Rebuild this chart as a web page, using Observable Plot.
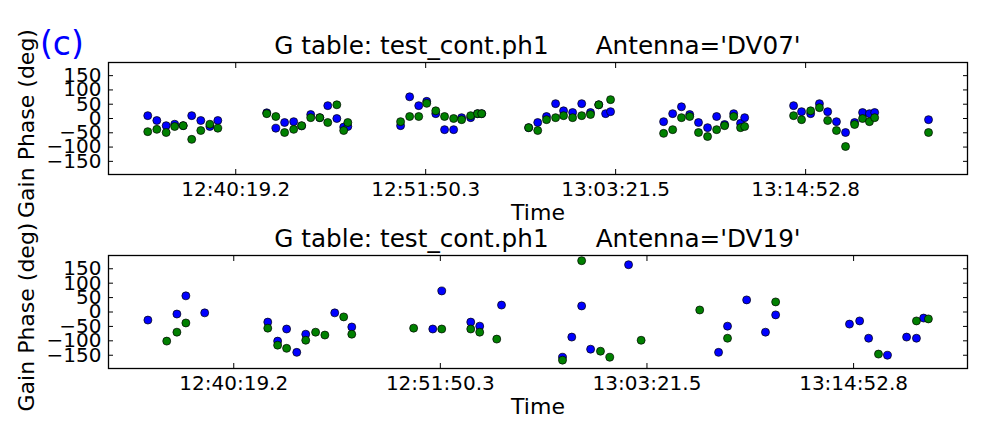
<!DOCTYPE html>
<html>
<head>
<meta charset="utf-8">
<script src="https://cdn.jsdelivr.net/npm/d3@7"></script>
<script src="https://cdn.jsdelivr.net/npm/@observablehq/plot@0.6"></script>
<style>
  html, body { margin: 0; padding: 0; background: #fff; }
  #wrap { position: relative; width: 996px; height: 448px; overflow: hidden; background: #fff; font-family: "DejaVu Sans", sans-serif; color: #000; }
  .panel { position: absolute; left: 0; }
  .title { position: absolute; left: 108px; width: 859px; text-align: center; font-size: 24.7px; line-height: 1; white-space: pre; }
  .tag { position: absolute; left: 40px; top: 27px; font-size: 33px; line-height: 1; color: #0000ff; }
  g[aria-label="x-axis label"], g[aria-label="y-axis label"] { font-size: 22px; }
</style>
</head>
<body>
<div id="wrap">
  <div id="top" class="panel" style="top:0px"></div>
  <div id="bottom" class="panel" style="top:230px"></div>
  <div class="tag">(c)</div>
  <div class="title" id="t1" style="top:34px"></div>
  <div class="title" id="t2" style="top:227px"></div>
</div>
<script>
// ---- tick labels ----
const xTickLabels = ["12:40:19.2", "12:51:50.3", "13:03:21.5", "13:14:52.8"];
const yTicks = [-150, -100, -50, 0, 50, 100, 150];
const tableName = "test_cont.ph1";
const antennas = ["DV07", "DV19"];

// ---- Antenna DV07 ----
const dv07Times = [
  "12:34:59","12:35:32","12:36:06","12:36:37","12:37:08","12:37:39","12:38:12","12:38:45","12:39:14",
  "12:42:12","12:42:45","12:43:17","12:43:50","12:44:19","12:44:52","12:45:25","12:45:54","12:46:27","12:46:52","12:47:07",
  "12:50:19","12:50:52","12:51:25","12:51:54","12:52:27","12:52:59","12:53:32","12:54:01","12:54:34","12:54:59","12:55:14",
  "12:58:05","12:58:38","12:59:10","12:59:43","13:00:12","13:00:45","13:01:18","13:01:50","13:02:20","13:02:45","13:03:03",
  "13:06:16","13:06:49","13:07:21","13:07:51","13:08:23","13:08:56","13:09:29","13:09:58","13:10:31","13:10:56","13:11:11",
  "13:14:09","13:14:38","13:15:11","13:15:43","13:16:13","13:16:45","13:17:18","13:17:51","13:18:20","13:18:45","13:19:04",
  "13:22:20"
];
const dv07Blue = [
  10, -7, -25, -20, -25, 10, -7, -28, -7,
  20, -34, -14, -11, -26, 14, 3, 45, 0, -30, -28,
  -25, 76, 45, 60, 17, -39, -39, 3, 3, 17, 17,
  -32, -14, 7, 52, 27, 21, 52, 21, 48, 17, 24,
  -11, 17, 41, 14, -14, -32, 7, -21, 17, -17, 3,
  45, 24, 17, 52, 24, -11, -49, -14, 21, 17, 21,
  -4
];
const dv07Green = [
  -46, -38, -49, -28, -25, -73, -42, -20, -34,
  17, 7, -49, -38, -25, 3, 3, -14, 48, -42, -14,
  -11, 7, 7, 53, 27, 7, 0, -4, 10, 17, 17,
  -32, -42, -4, 3, 10, 3, 10, 14, 48, null, 66,
  -52, -39, 3, 7, -49, -63, -39, -25, 7, -32, -28,
  10, -4, 27, 38, -7, -42, -98, -21, 0, -11, 3,
  -49
];
const dv07Domain = ["12:32:36.2", "13:24:41.8"];

// ---- Antenna DV19 ----
const dv19Times = [
  "12:35:32","12:36:35","12:37:09","12:37:39","12:38:42",
  "12:42:13","12:42:46","12:43:16","12:43:50","12:44:20","12:44:53","12:45:24","12:45:57","12:46:27","12:46:54",
  "12:50:21","12:51:25","12:51:55","12:53:32","12:54:02","12:54:59","12:55:15",
  "12:58:39","12:59:10","12:59:43","13:00:13","13:00:46","13:01:17","13:02:20","13:03:02",
  "13:06:18","13:07:21","13:07:51","13:08:55","13:09:58","13:10:32",
  "13:14:39","13:15:13","13:15:43","13:16:16","13:16:46","13:17:50","13:18:23","13:18:47","13:19:03"
];
const dv19Blue = [
  -28, null, -7, 56, -3,
  -35, -101, -59, -140, -77, null, null, -3, null, -52,
  null, -59, 73, -35, -49, null, 24,
  -157, -87, 21, -129, null, null, 164, null,
  null, -140, -49, 42, -70, -10,
  -42, -31, -91, null, -150, -87, -91, -21, null
];
const dv19Green = [
  null, -101, -70, -38, null,
  -56, -115, -126, null, -98, -70, -80, null, -17, -77,
  -56, null, -59, -59, -70, -94, null,
  -167, null, 178, null, -136, -157, null, -98,
  7, null, -91, null, null, 35,
  null, null, null, -146, null, null, -31, null, -24
];
const dv19Domain = ["12:33:20.2", "13:21:13.8"];

const yDomain = [-196, 196];

// ---- helpers ----
function parseT(s) {
  const [h, m, sec] = s.split(":");
  return new Date(Date.UTC(2013, 0, 1, +h, +m, 0) + Math.round(+sec * 1000));
}
function fmtT(d) {
  const s = d.getUTCSeconds() + d.getUTCMilliseconds() / 1000;
  return d.getUTCHours() + ":" + String(d.getUTCMinutes()).padStart(2, "0") + ":" + s.toFixed(1).padStart(4, "0");
}
const xTicks = xTickLabels.map(parseT);

function makePanel(times, blue, green, domain, height, mt, mb) {
  const rows = times.map((t, i) => ({time: parseT(t), blue: blue[i], green: green[i]}));
  const svg = Plot.plot({
    width: 996,
    height: height,
    marginLeft: 108,
    marginRight: 29,
    marginTop: mt,
    marginBottom: mb,
    style: {fontFamily: "DejaVu Sans", overflow: "visible", background: "transparent", color: "black"},
    x: {type: "utc", domain: domain.map(parseT)},
    y: {domain: yDomain},
    marks: [
      Plot.frame({stroke: "black", strokeWidth: 1.3}),
      Plot.axisX({anchor: "bottom", ticks: xTicks, tickSize: -5, fill: "none", label: null}),
      Plot.axisX({anchor: "top", ticks: xTicks, tickSize: -5, fill: "none", label: null}),
      Plot.axisY({anchor: "left", ticks: yTicks, tickSize: -5, fill: "none", label: null}),
      Plot.axisY({anchor: "right", ticks: yTicks, tickSize: -5, fill: "none", label: null}),
      Plot.axisX({anchor: "bottom", ticks: xTicks, tickSize: 0, tickPadding: 7, tickFormat: fmtT, fontSize: 20,
                  label: "Time", labelAnchor: "center", labelOffset: 45, labelArrow: false}),
      Plot.axisY({anchor: "left", ticks: yTicks, tickSize: 0, tickPadding: 7, fontSize: 20,
                  label: "Gain Phase (deg)", labelAnchor: "center", labelOffset: 90, labelArrow: false}),
      Plot.dot(rows, {x: "time", y: "blue", r: 4, fill: "#0000ff", stroke: "black", strokeWidth: 0.7}),
      Plot.dot(rows, {x: "time", y: "green", r: 4, fill: "#008000", stroke: "black", strokeWidth: 0.7})
    ]
  });
  // nudge the rotated y label a few pixels down, as in the reference
  const yl = svg.querySelector('g[aria-label="y-axis label"]');
  if (yl) yl.setAttribute("transform", ((yl.getAttribute("transform") || "") + " translate(0,5)").trim());
  return svg;
}

document.getElementById("top").appendChild(makePanel(dv07Times, dv07Blue, dv07Green, dv07Domain, 230, 62, 56));
document.getElementById("bottom").appendChild(makePanel(dv19Times, dv19Blue, dv19Green, dv19Domain, 218, 25, 80));

const gap = "      ";
document.getElementById("t1").textContent = "G table: " + tableName + gap + "Antenna='" + antennas[0] + "'";
document.getElementById("t2").textContent = "G table: " + tableName + gap + "Antenna='" + antennas[1] + "'";
</script>
</body>
</html>
